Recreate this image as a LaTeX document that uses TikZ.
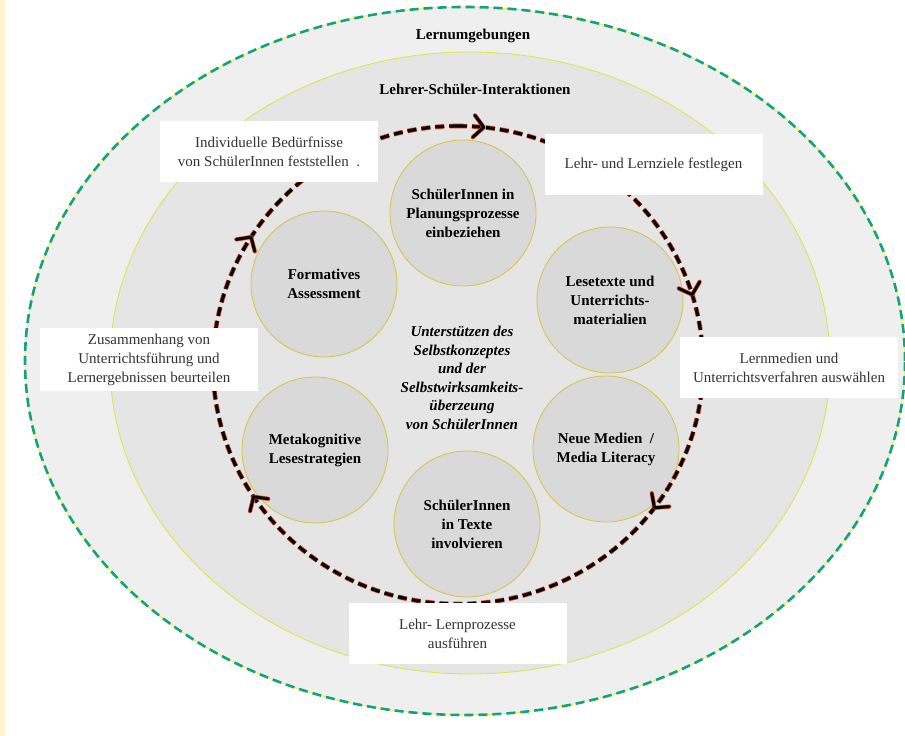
\documentclass[tikz,border=0pt]{standalone}
\usepackage{fontspec}
\setmainfont{Liberation Serif}
\usetikzlibrary{decorations.markings,positioning}

\definecolor{outerfill}{HTML}{EFEFEF}
\definecolor{innerfill}{HTML}{E5E5E5}
\definecolor{topicfill}{HTML}{D9D9D9}
\definecolor{topicline}{HTML}{D8C43E}
\definecolor{envgreen}{HTML}{13A37A}
\definecolor{envyellow}{HTML}{EEF02A}
\definecolor{interline}{HTML}{D9E83C}
\definecolor{ringred}{HTML}{D4401A}
\definecolor{boxtext}{HTML}{333333}
\definecolor{strip}{HTML}{FFF4CC}

% open chevron placed on the cycle, pointing along the path
\newcommand{\cyclehead}{%
  \draw[solid, ringred, line width=4.2pt, line cap=round, line join=round] (-10pt,11pt) -- (0,0) -- (-10pt,-11pt);
  \draw[solid, black, line width=2.8pt, line cap=round, line join=round] (-10pt,11pt) -- (0,0) -- (-10pt,-11pt);}

\begin{document}
\begin{tikzpicture}[x=1pt,y=1pt,
    topic/.style={circle, fill=topicfill, draw=topicline, line width=0.8pt,
      minimum size=146pt, inner sep=0pt, align=center,
      font=\fontsize{15}{19}\selectfont\bfseries},
    stepbox/.style={rectangle, fill=white, minimum width=218pt,
      minimum height=61pt, align=center, text=boxtext,
      font=\fontsize{15}{19}\selectfont},
    layer/.style={font=\fontsize{15}{19}\selectfont\bfseries},
    ringdash/.style={dash pattern=on 9pt off 5pt}
  ]
  \useasboundingbox (0,0) rectangle (905,736);
  \fill[strip] (0,0) rectangle (5,736);

  % Lernumgebungen / Lehrer-Schueler-Interaktionen
  \coordinate (env) at (465,375);
  \coordinate (inter) at (470,373);
  \fill[outerfill] (env) ellipse [x radius=440pt, y radius=354pt];
  \draw[envyellow, line width=0.8pt] (env) ellipse [x radius=440pt, y radius=354pt];
  \draw[envgreen, line width=2.6pt, ringdash] (env) ellipse [x radius=440pt, y radius=354pt];
  \filldraw[fill=innerfill, draw=interline, line width=0.8pt] (inter) ellipse [x radius=360pt, y radius=311pt];

  \node[layer] (lu) at (473,700) {Lernumgebungen};
  \node[layer] (lsi) at (475,647) {Lehrer-Schüler-Interaktionen};

  % the six topics
  \node[topic] (plan) at (463,523) {SchülerInnen in\\Planungsprozesse\\einbeziehen};
  \node[topic] (lese) at (610,436) {Lesetexte und\\Unterrichts-\\materialien};
  \node[topic] (medien) at (606,287) {Neue Medien~~/\\Media Literacy};
  \node[topic] (texte) at (467,212) {SchülerInnen\\in Texte\\involvieren};
  \node[topic] (meta) at (315,286) {Metakognitive\\Lesestrategien};
  \node[topic] (form) at (324,452) {Formatives\\Assessment};

  \node[align=center, font=\fontsize{15}{18.5}\selectfont\bfseries\itshape] (selbst) at (462,358)
    {Unterstützen des\\Selbstkonzeptes\\und der\\Selbstwirksamkeits-\\überzeung\\von SchülerInnen};

  % cycle, clockwise
  \coordinate (cyc) at (458,371);
  \draw[ringred, line width=4.6pt, ringdash] (cyc) ++(90:245pt and 239pt)
    arc [start angle=90, end angle=-270, x radius=245pt, y radius=239pt];
  \draw[black, line width=3.1pt, ringdash,
    postaction={decorate, decoration={markings,
      mark=at position 0.017 with {\cyclehead},
      mark=at position 0.203 with {\cyclehead},
      mark=at position 0.351 with {\cyclehead},
      mark=at position 0.658 with {\cyclehead},
      mark=at position 0.839 with {\cyclehead}}}]
    (cyc) ++(90:245pt and 239pt)
    arc [start angle=90, end angle=-270, x radius=245pt, y radius=239pt];

  % steps of the cycle
  \node[stepbox] (bed) at (269,584.5) {Individuelle Bedürfnisse\\von SchülerInnen feststellen~~.};
  \node[stepbox] (ziele) at (653.5,571) {Lehr- und Lernziele festlegen};
  \node[stepbox] (wahl) at (789,368) {Lernmedien und\\Unterrichtsverfahren auswählen};
  \node[stepbox] (proz) at (457.5,102.5) {Lehr- Lernprozesse\\ausführen};
  \node[stepbox, minimum height=63pt] (beurt) at (149,376.5) {Zusammenhang von\\Unterrichtsführung und\\Lernergebnissen beurteilen};
\end{tikzpicture}
\end{document}
